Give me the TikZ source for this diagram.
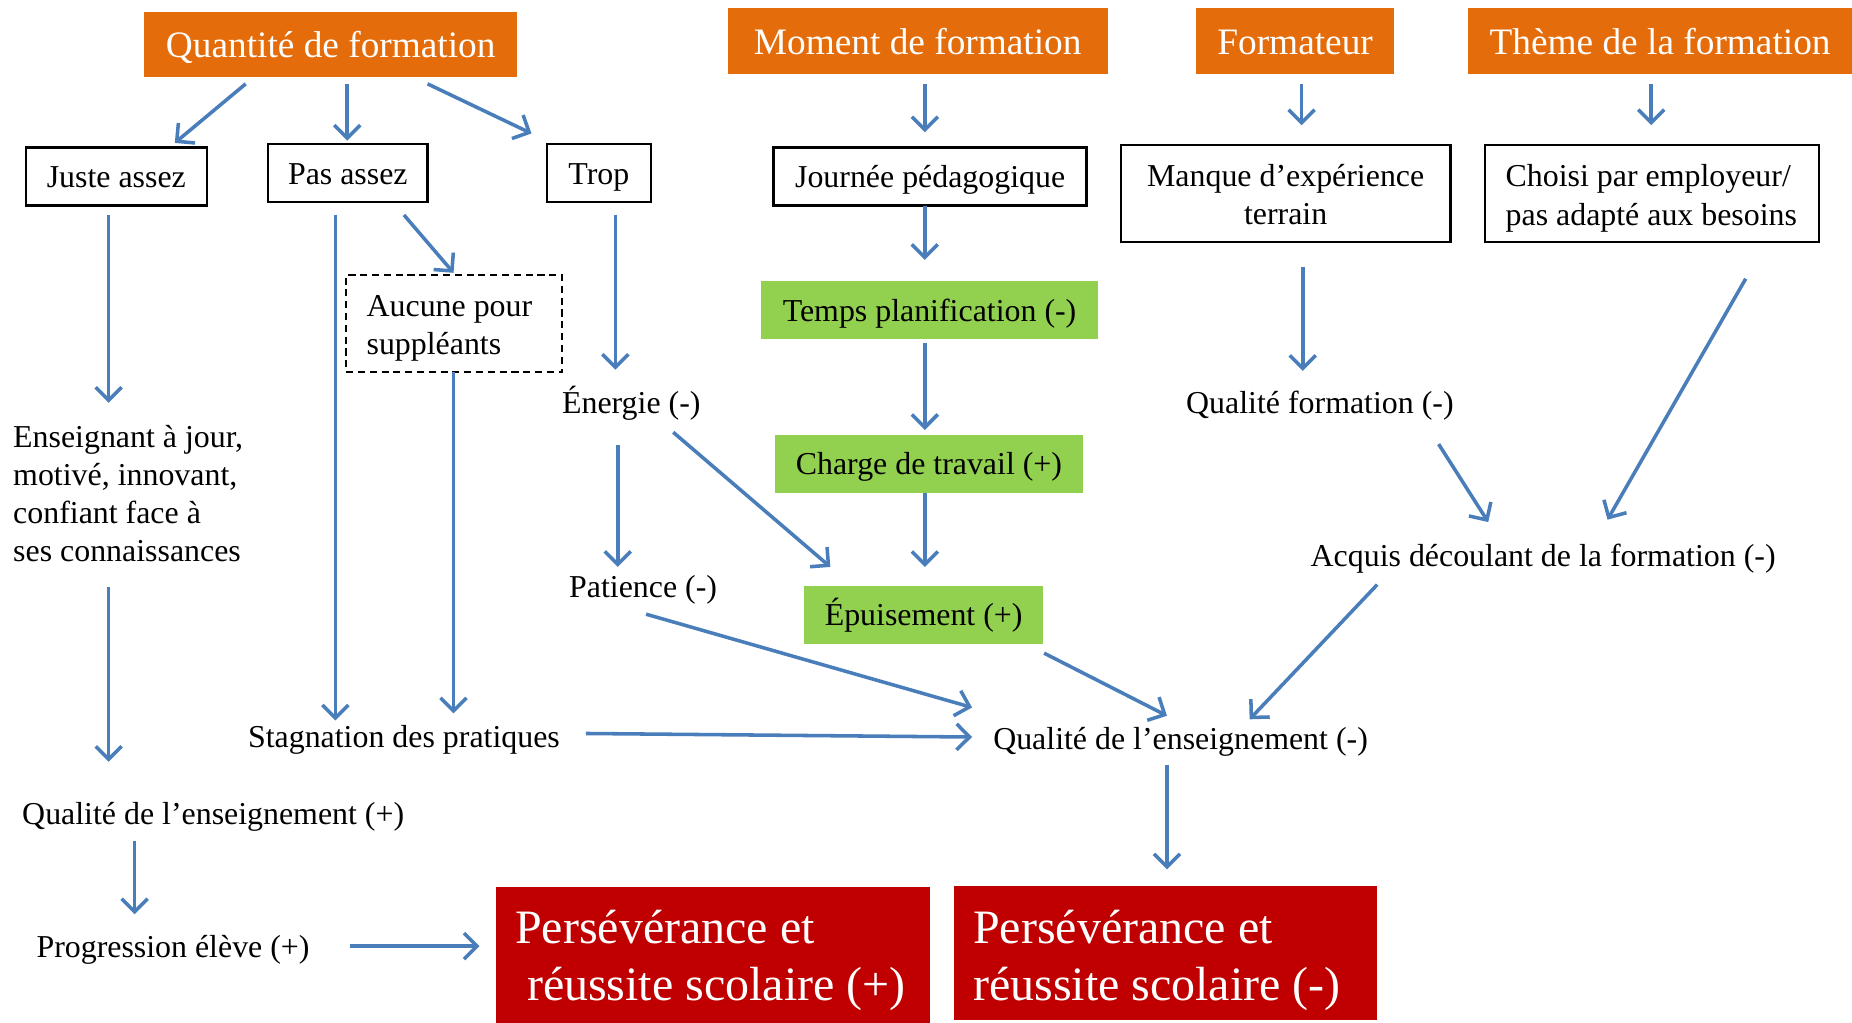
\documentclass[tikz,border=0pt]{standalone}
\usepackage{fontspec}
\setmainfont{Liberation Serif}
\usetikzlibrary{arrows.meta,calc}
\definecolor{hdrorange}{HTML}{E46C0A}
\definecolor{boxgreen}{HTML}{92D050}
\definecolor{boxred}{HTML}{C00000}
\definecolor{arrblue}{HTML}{4A7EBB}
\newcommand{\bodyfont}{\fontsize{27}{32.3}\selectfont}
\newcommand{\hdrfont}{\fontsize{31.6}{38}\selectfont}
\newcommand{\redfont}{\fontsize{40.6}{48}\selectfont}
\newcommand{\upstrut}[1]{\rule{0pt}{#1}}
\tikzset{
  onebody/.style={text height=24.8pt, text depth=5.9pt},
  onehdr/.style={text height=29.1pt, text depth=7pt},
  hdr/.style={fill=hdrorange, text=white, font=\hdrfont, inner sep=0pt, onehdr},
  bbox/.style={draw=black, line width=2pt, font=\bodyfont, inner sep=0pt},
  dbox/.style={draw=black, line width=1.6pt, dash pattern=on 6pt off 4pt, font=\bodyfont, inner sep=0pt},
  gbox/.style={fill=boxgreen, font=\bodyfont, inner sep=0pt, onebody},
  rbox/.style={fill=boxred, text=white, font=\redfont, inner sep=0pt, align=left},
  txt/.style={font=\bodyfont, inner sep=0pt},
  arr/.style={draw=arrblue, line width=3pt, -{Straight Barb[length=11pt,width=22pt]}}
}
\begin{document}
\begin{tikzpicture}[x=1pt,y=-1pt]
\path[use as bounding box] (0,0) rectangle (1568,866);
% headers
\node[hdr, minimum width=316pt, minimum height=55pt] (qf) at (280,37.5) {Quantité de formation};
\node[hdr, minimum width=322pt, minimum height=56pt] (mf) at (777,35) {Moment de formation};
\node[hdr, minimum width=167pt, minimum height=56pt] (fo) at (1096.5,35) {Formateur};
\node[hdr, minimum width=325pt, minimum height=56pt] (th) at (1405.5,35) {Thème de la formation};
% boxes
\node[bbox, onebody, minimum width=153pt, minimum height=49pt] (juste) at (98.5,149.5) {Juste assez};
\node[bbox, onebody, minimum width=135pt, minimum height=49pt] (pas) at (294.5,146.5) {Pas assez};
\node[bbox, onebody, minimum width=88pt, minimum height=49pt] (trop) at (507,146.5) {Trop};
\node[bbox, onebody, minimum width=265pt, minimum height=49pt] (jp) at (787.5,149.5) {Journée pédagogique};
\node[bbox, minimum width=279pt, minimum height=82pt, align=center] (manque) at (1088.5,164) {\upstrut{20.4pt}Manque d’expérience\\terrain};
\node[bbox, minimum width=283pt, minimum height=82pt, align=left] (choisi) at (1398.5,164) {\upstrut{26.5pt}Choisi par employeur/\hspace*{6pt}\\pas adapté aux besoins};
\node[dbox, minimum width=183pt, minimum height=82pt, align=left] (aucune) at (384.5,274) {\upstrut{26.5pt}Aucune pour\hspace*{8pt}\\suppléants};
% green
\node[gbox, minimum width=286pt, minimum height=49pt] (temps) at (787,262.5) {Temps planification (-)};
\node[gbox, minimum width=261pt, minimum height=49pt] (charge) at (786.5,392.5) {Charge de travail (+)};
\node[gbox, minimum width=202pt, minimum height=49pt] (epuis) at (782,520.5) {Épuisement (+)};
% red
\node[rbox, minimum width=367pt, minimum height=115pt] (redp) at (603.5,808.5) {\upstrut{38pt}Persévérance et\\\hspace*{10pt}réussite scolaire (+)\hspace*{4pt}};
\node[rbox, minimum width=358pt, minimum height=114pt] (redm) at (987,807) {\upstrut{40pt}Persévérance et\\réussite scolaire (-)\hspace*{15pt}};
% plain texts
\node[txt, onebody] (energie) at (534.5,341) {Énergie (-)};
\node[txt, onebody] (patience) at (544.5,496) {Patience (-)};
\node[txt, anchor=west, align=left] (ens) at (11,418) {Enseignant à jour,\\motivé, innovant,\\confiant face à\\ses connaissances};
\node[txt, onebody] (stag) at (342,623) {Stagnation des pratiques};
\node[txt, onebody] (qp) at (180.5,689) {Qualité de l’enseignement (+)};
\node[txt, onebody] (prog) at (146.5,801) {Progression élève (+)};
\node[txt, onebody] (qm) at (999.5,625) {Qualité de l’enseignement (-)};
\node[txt, onebody] (qfo) at (1117.5,341) {Qualité formation (-)};
\node[txt, onebody] (acq) at (1306.5,470) {Acquis découlant de la formation (-)};
% arrows
\draw[arr] ($(qf)+(-72,33.5)$) -- ($(juste)+(49.5,-28.5)$);
\draw[arr] ($(qf)+(14,33.5)$) -- ($(pas)+(-0.5,-27.5)$);
\draw[arr] ($(qf)+(82,33.5)$) -- ($(trop)+(-57,-33.5)$);
\draw[arr] ($(mf)+(6,36)$) -- ($(jp)+(-4.5,-37.5)$);
\draw[arr] ($(fo)+(5.5,36)$) -- ($(manque)+(13.5,-58)$);
\draw[arr] ($(th)+(-7.5,36)$) -- ($(choisi)+(-0.5,-58)$);
\draw[arr] ($(juste)+(-6.5,32.5)$) -- ($(ens.west)+(81,-77)$);
\draw[arr] ($(pas)+(-10.5,35.5)$) -- ($(stag)+(-58,-13)$);
\draw[arr] ($(pas)+(47.5,35.5)$) -- ($(aucune)+(-0.5,-43)$);
\draw[arr] ($(aucune)+(-0.5,41)$) -- ($(stag)+(42,-19)$);
\draw[arr] ($(trop)+(14,35.5)$) -- ($(energie)+(-13.5,-28)$);
\draw[arr] ($(jp)+(-4.5,24.5)$) -- ($(temps)+(-4,-42.5)$);
\draw[arr] ($(temps)+(-4,27.5)$) -- ($(charge)+(-3.5,-28.5)$);
\draw[arr] ($(charge)+(-3.5,24.5)$) -- ($(epuis)+(1,-40.5)$);
\draw[arr] ($(energie)+(-11.5,36)$) -- ($(patience)+(-21.5,-16)$);
\draw[arr] ($(energie)+(35.5,25)$) -- ($(epuis)+(-79,-40.5)$);
\draw[arr] ($(patience)+(2.5,24)$) -- ($(qm)+(-176.5,-26)$);
\draw[arr] ($(epuis)+(102,32.5)$) -- ($(qm)+(-11.5,-19)$);
\draw[arr] ($(acq)+(-140.5,25)$) -- ($(qm)+(58.5,-16)$);
\draw[arr] ($(stag)+(154,-2)$) -- ($(qm)+(-176.5,-1)$);
\draw[arr] ($(qm)+(-11.5,23)$) -- ($(redm)+(1,-71)$);
\draw[arr] ($(manque)+(14.5,62)$) -- ($(qfo)+(-14.5,-27)$);
\draw[arr] ($(qfo)+(100.5,35)$) -- ($(acq)+(-46.5,-28)$);
\draw[arr] ($(choisi)+(79.5,72)$) -- ($(acq)+(54.5,-30)$);
\draw[arr] ($(ens.west)+(81,79)$) -- ($(qp)+(-88.5,-44)$);
\draw[arr] ($(qp)+(-66.5,23)$) -- ($(prog)+(-32.5,-27)$);
\draw[arr] ($(prog)+(149.5,0)$) -- ($(redp)+(-197.5,-7.5)$);
\end{tikzpicture}
\end{document}
